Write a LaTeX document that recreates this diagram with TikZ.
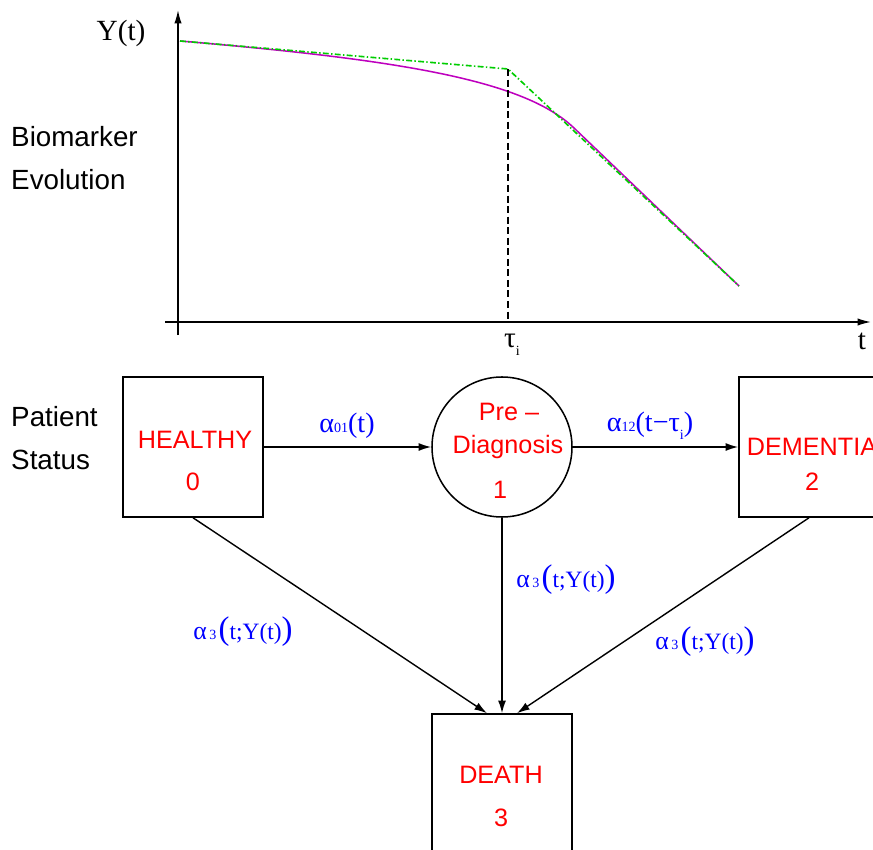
\documentclass[tikz,border=0pt]{standalone}
\usepackage{fontspec}
\setmainfont{Liberation Serif}
\newfontfamily\sansf{Liberation Sans}
\usetikzlibrary{arrows.meta,calc}
\definecolor{gline}{RGB}{0,205,0}
\definecolor{mline}{RGB}{190,0,190}
\tikzset{
  arr/.style={line width=1.2pt,-{Latex[length=0.38cm,width=0.24cm]}},
  axisline/.style={line width=1.3pt,-{Latex[length=0.4cm,width=0.22cm]}},
  statebox/.style={draw,line width=1.3pt,minimum width=4.2cm,minimum height=4.2cm,inner sep=0pt},
  statecirc/.style={draw,circle,line width=1.3pt,minimum size=4.2cm,inner sep=0pt},
  sidelab/.style={font=\sansf\fontsize{23.7}{27}\selectfont,anchor=west,inner sep=0pt},
  statelab/.style={font=\sansf\fontsize{21.5}{25}\selectfont,text=red,inner sep=0pt},
  ratelab/.style={font=\fontsize{24}{28}\selectfont,text=blue,inner sep=0pt},
  axlab/.style={font=\fontsize{25}{30}\selectfont,inner sep=0pt},
}
\newcommand{\smallsub}[1]{{\fontsize{12}{14}\selectfont #1}}
\newcommand{\bigpar}[1]{{\fontsize{28}{30}\selectfont #1}}
\newcommand{\midtext}[1]{{\fontsize{20}{24}\selectfont #1}}
\newcommand{\alphathree}{{\fontsize{22}{26}\selectfont α}\hspace{2pt}\smallsub{3}\hspace{2pt}\bigpar{(}\midtext{t;Y(t)}\bigpar{)}}
\begin{document}
\begin{tikzpicture}[x=0.03cm,y=-0.03cm]
\useasboundingbox (0,0) rectangle (873,850);
\begin{scope}
\clip (0,0) rectangle (873,850);
% axes
\coordinate (yb) at (178,335);
\coordinate (yt) at (178,10);
\coordinate (xl) at (165,322);
\coordinate (xr) at (871,322);
\draw[axisline] (yb) -- (yt);
\draw[axisline] (xl) -- (xr);
% curves
\coordinate (c0) at (180,41);
\coordinate (ck) at (508,69);
\coordinate (c1) at (739,286);
\coordinate (tb) at (508,322);
\draw[mline,line width=1.3pt] (c0) .. controls (400,59.8) and (524,80) .. (574,128) -- (c1);
\draw[gline,line width=1.4pt,dash pattern=on 5pt off 2pt on 1.2pt off 2pt] (c0) -- (ck) -- (c1);
\draw[line width=1.4pt,dash pattern=on 6pt off 3pt] (ck) -- (tb);
% axis labels
\node[axlab] (ylab) at (121,33) {Y(t)};
\node[axlab] (tlab) at (862,341) {t};
\node[axlab] (taulab) at (512,345) {τ\raisebox{-0.6ex}{\smallsub{i}}};
% side labels
\node[sidelab] (bio) at (11,137) {Biomarker};
\node[sidelab] (evo) at (11,180) {Evolution};
\node[sidelab] (pat) at (11,417) {Patient};
\node[sidelab] (sta) at (11,460) {Status};
% states
\node[statebox] (healthy) at (193,447) {};
\node[statecirc] (prediag) at (502,447) {};
\node[statebox] (dementia) at (809,447) {};
\node[statebox] (death) at (502,784) {};
\node[statelab] (h1) at (195,440) {HEALTHY};
\node[statelab] (h2) at (193,482) {0};
\node[statelab] (p1) at (509,412) {Pre –};
\node[statelab] (p2) at (508,447) {Diagnosis};
\node[statelab] (p3) at (500,490) {1};
\node[statelab] (d1) at (812,447) {DEMENTIA};
\node[statelab] (d2) at (812,482) {2};
\node[statelab] (x1) at (501,775) {DEATH};
\node[statelab] (x2) at (501,818) {3};
% transitions
\draw[arr] (healthy.east) -- (prediag.west);
\draw[arr] (prediag.east) -- (dementia.west);
\draw[arr] (healthy.south) -- ($(death.north)+(-15,0)$);
\draw[arr] (prediag.south) -- (death.north);
\draw[arr] (dementia.south) -- ($(death.north)+(15,0)$);
% rate labels
\node[ratelab] (r01) at (347,426) {α\smallsub{01}(t)};
\node[ratelab] (r12) at (650,426) {α\smallsub{12}(t−τ\raisebox{-0.6ex}{\smallsub{i}})};
\node[ratelab] (r3a) at (243,632) {\alphathree};
\node[ratelab] (r3b) at (566,580) {\alphathree};
\node[ratelab] (r3c) at (705,642) {\alphathree};
\end{scope}
\end{tikzpicture}
\end{document}
